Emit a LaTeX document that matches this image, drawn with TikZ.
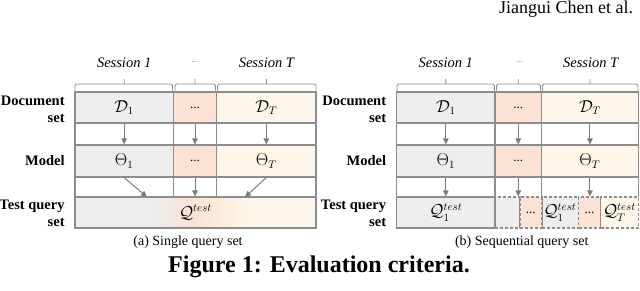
\documentclass[tikz,border=0pt]{standalone}
\usepackage{fontspec}
\setmainfont{Liberation Serif}
\usetikzlibrary{arrows.meta}
\definecolor{gfill}{RGB}{237,237,237}
\definecolor{pfill}{RGB}{251,226,213}
\definecolor{cfill}{RGB}{254,246,232}
\definecolor{lgray}{RGB}{140,140,140}
\definecolor{agray}{RGB}{125,125,125}
\begin{document}
\begin{tikzpicture}[x=1pt,y=-1pt,line width=1.1pt,
  cell/.style={draw=lgray,inner sep=0pt,font=\fontsize{16}{18}\selectfont},
  dcell/.style={cell,dash pattern=on 3pt off 2pt},
  brk/.style={draw=lgray,line width=0.9pt,rounded corners=1.5pt},
  arr/.style={draw=agray,line width=1pt,-{Triangle[length=6pt,width=5.5pt]}},
  rowlab/.style={font=\fontsize{14.5}{16.7}\selectfont\bfseries,align=right,anchor=east},
  sess/.style={font=\fontsize{14.5}{16}\selectfont\itshape},
  sub/.style={font=\fontsize{14}{16}\selectfont}]
  \useasboundingbox (0,0) rectangle (640,290);
  \node[anchor=base east,font=\fontsize{18}{20}\selectfont] (hdr) at (637,13) {Jiangui Chen et al.};

  \node[sess] (as1) at (124.2,63) {Session 1};
  \node[sess,text=agray,font=\fontsize{9}{10}\selectfont] (asd) at (195,62) {...};
  \node[sess] (asT) at (266.4,63) {Session T};
  \draw[brk] (75,90.5) |- (172.5,84) -- (172.5,90.5) (124.2,84) -- (124.2,79);
  \draw[brk] (175,90.5) |- (215.5,84) -- (215.5,90.5) (195,84) -- (195,79);
  \draw[brk] (217.5,90.5) |- (316,84) -- (316,90.5) (266.4,84) -- (266.4,79);
  \node[rowlab] (adoc) at (68.5,109) {Document\\set};
  \node[rowlab] (amod) at (68.5,161) {Model};
  \node[rowlab] (aqry) at (68.5,213) {Test query\\set};
  \node[cell,fill=gfill,minimum width=98.3,minimum height=31] (aD1) at (124.15,107.5) {$\mathcal{D}_1$};
  \node[cell,fill=pfill,minimum width=43.4,minimum height=31,font=\fontsize{13}{15}\selectfont] (aD2) at (195,107.5) {...};
  \node[cell,fill=cfill,minimum width=99.3,minimum height=31] (aDT) at (266.35,107.5) {$\mathcal{D}_T$};
  \node[cell,fill=gfill,minimum width=98.3,minimum height=32] (aM1) at (124.15,161) {$\Theta_1$};
  \node[cell,fill=pfill,minimum width=43.4,minimum height=32,font=\fontsize{13}{15}\selectfont] (aM2) at (195,161) {...};
  \node[cell,fill=cfill,minimum width=99.3,minimum height=32] (aMT) at (266.35,161) {$\Theta_T$};
  \foreach \x in {75,173.3,216.7,316}
    \draw[lgray] (\x,123) -- (\x,145) (\x,177) -- (\x,197);
  \fill[gfill] (75,197) rectangle (150,228);
  \shade[left color=gfill,right color=pfill] (150,197) rectangle (193,228);
  \shade[left color=pfill,right color=cfill] (193,197) rectangle (248,228);
  \fill[cfill] (248,197) rectangle (316,228);
  \node[cell,minimum width=241,minimum height=31] (aQ) at (195.5,212.5) {$\mathcal{Q}^{test}$};
  \coordinate (aQl) at (147,197);
  \coordinate (aQr) at (245,197);
  \draw[arr] (aD1) -- (aM1);
  \draw[arr] (aD2) -- (aM2);
  \draw[arr] (aDT) -- (aMT);
  \draw[arr] (aM1.south) -- (aQl);
  \draw[arr] (aM2.south) -- (aM2.south |- aQ.north);
  \draw[arr] (aMT.south) -- (aQr);
  \node[sub] (capa) at (188,241.7) {(a) Single query set};

  \node[sess] (bs1) at (445.8,63) {Session 1};
  \node[sess,text=agray,font=\fontsize{9}{10}\selectfont] (bsd) at (520,62) {...};
  \node[sess] (bsT) at (590.7,63) {Session T};
  \draw[brk] (397,90.5) |- (494.3,84) -- (494.3,90.5) (445.8,84) -- (445.8,79);
  \draw[brk] (496.5,90.5) |- (540.5,84) -- (540.5,90.5) (518.2,84) -- (518.2,79);
  \draw[brk] (542.5,90.5) |- (638,84) -- (638,90.5) (590,84) -- (590,79);
  \node[rowlab] (bdoc) at (390,109) {Document\\set};
  \node[rowlab] (bmod) at (390,161) {Model};
  \node[rowlab] (bqry) at (390,213) {Test query\\set};
  \node[cell,fill=gfill,minimum width=98.3,minimum height=31] (bD1) at (445.85,107.5) {$\mathcal{D}_1$};
  \node[cell,fill=pfill,minimum width=46.5,minimum height=31,font=\fontsize{13}{15}\selectfont] (bD2) at (518.25,107.5) {...};
  \node[cell,fill=cfill,minimum width=96.8,minimum height=31] (bDT) at (589.9,107.5) {$\mathcal{D}_T$};
  \node[cell,fill=gfill,minimum width=98.3,minimum height=32] (bM1) at (445.85,161) {$\Theta_1$};
  \node[cell,fill=pfill,minimum width=46.5,minimum height=32,font=\fontsize{13}{15}\selectfont] (bM2) at (518.25,161) {...};
  \node[cell,fill=cfill,minimum width=96.8,minimum height=32] (bMT) at (589.9,161) {$\Theta_T$};
  \foreach \x in {396.7,495,541.5,638.3}
    \draw[lgray] (\x,123) -- (\x,145) (\x,177) -- (\x,197);
  \node[cell,fill=gfill,minimum width=98.3,minimum height=31] (bQ1) at (445.85,212.5) {$\mathcal{Q}_1^{test}$};
  \node[dcell,fill=gfill,minimum width=25,minimum height=31] (bQa) at (507.5,212.5) {};
  \node[dcell,fill=pfill,minimum width=21.5,minimum height=31,font=\fontsize{13}{15}\selectfont] (bQb) at (530.75,212.5) {...};
  \node[dcell,fill=gfill,minimum width=37,minimum height=31] (bQc) at (560,212.5) {$\mathcal{Q}_1^{test}$};
  \node[dcell,fill=pfill,minimum width=22,minimum height=31,font=\fontsize{13}{15}\selectfont] (bQd) at (589.5,212.5) {...};
  \node[dcell,fill=cfill,minimum width=37.8,minimum height=31] (bQe) at (619.4,212.5) {$\mathcal{Q}_T^{test}$};
  \draw[lgray] (bQ1.north east) -- (bQ1.south east) (bQb.north east) -- (bQb.south east);
  \draw[arr] (bD1) -- (bM1);
  \draw[arr] (bD2) -- (bM2);
  \draw[arr] (bDT) -- (bMT);
  \draw[arr] (bM1) -- (bQ1);
  \draw[arr] (bM2.south) -- (bM2.south |- bQb.north);
  \draw[arr] (bMT.south) -- (bMT.south |- bQd.north);
  \node[sub] (capb) at (521.7,241.7) {(b) Sequential query set};

  \node[font=\fontsize{24}{26}\selectfont\bfseries] (fig) at (319,266.7) {Figure 1: Evaluation criteria.};
\end{tikzpicture}
\end{document}
